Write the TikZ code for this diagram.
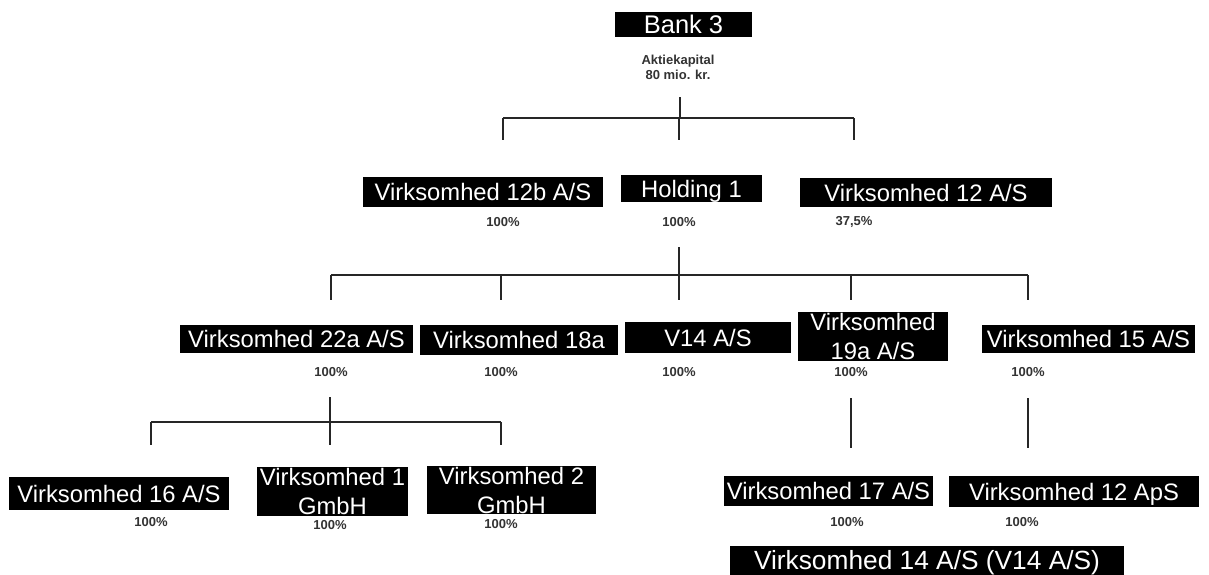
\documentclass[tikz,border=0pt]{standalone}
\usepackage{fontspec}
\setmainfont{Liberation Sans}
\usepackage{tikz}
\usetikzlibrary{positioning}

\newcommand{\firmfont}{\fontsize{23.8}{29}\selectfont}
\newcommand{\pctfont}{\fontsize{13}{15}\selectfont\bfseries}

\begin{document}
\begin{tikzpicture}[
        x=1pt, y=-1pt,
        box/.style={fill=black, text=white, inner sep=0pt, align=center, font=\firmfont},
        single/.style={text height=17pt, text depth=0pt},
        pct/.style={inner sep=0pt, align=center, text=black!80, font=\pctfont},
        line/.style={draw=black!85, line width=1.1pt}
    ]
        \path[fill=white, use as bounding box] (0,0) rectangle (1209,574);

        % ── Top: the bank ────────────────────────────────────────────────
        \node[box, minimum width=137, minimum height=25, text height=18pt, text depth=0pt,
              font=\fontsize{25.5}{29}\selectfont] (bank) at (683.5, 24.5) {Bank 3};
        \node[pct] (cap) at (678, 67) {Aktiekapital\\80 mio. kr.};

        % ── Percent labels (drawn first, boxes sit on top) ──────────────
        \node[pct] (p12b)  at (503,  222) {100\%};
        \node[pct] (phold) at (679,  222) {100\%};
        \node[pct] (p12)   at (854,  222) {37,5\%};
        \node[pct] (p22a)  at (331,  372) {100\%};
        \node[pct] (p18a)  at (501,  372) {100\%};
        \node[pct] (pv14)  at (679,  372) {100\%};
        \node[pct] (p19a)  at (851,  372) {100\%};
        \node[pct] (p15)   at (1028, 372) {100\%};
        \node[pct] (p16)   at (151,  522) {100\%};
        \node[pct] (p1)    at (330,  525) {100\%};
        \node[pct] (p2)    at (501,  524) {100\%};
        \node[pct] (p17)   at (847,  522) {100\%};
        \node[pct] (p12a)  at (1022, 522) {100\%};

        % ── Second row ───────────────────────────────────────────────────
        \node[box, single, minimum width=240, minimum height=30] (v12b) at (483,   192)   {Virksomhed 12b A/S};
        \node[box, single, minimum width=141, minimum height=27] (hold) at (691.5, 188.5) {Holding 1};
        \node[box, single, minimum width=252, minimum height=29] (v12)  at (926,   192.5) {Virksomhed 12 A/S};

        % ── Third row ────────────────────────────────────────────────────
        \node[box, single, minimum width=233, minimum height=28] (v22a) at (296.5,  339)   {Virksomhed 22a A/S};
        \node[box, single, minimum width=198, minimum height=30] (v18a) at (519,    340)   {Virksomhed 18a};
        \node[box, single, minimum width=166, minimum height=31] (v14)  at (708,    337.5) {V14 A/S};
        \node[box, minimum width=150, minimum height=49]         (v19a) at (873,    336.5) {Virksomhed\\19a A/S};
        \node[box, single, minimum width=213, minimum height=28] (v15)  at (1088.5, 339)   {Virksomhed 15 A/S};

        % ── Bottom row ───────────────────────────────────────────────────
        \node[box, single, minimum width=220, minimum height=33] (v16)  at (119,   493.5) {Virksomhed 16 A/S};
        \node[box, minimum width=151, minimum height=49]         (v1)   at (332.5, 491.5) {Virksomhed 1\\GmbH};
        \node[box, minimum width=169, minimum height=48]         (v2)   at (511.5, 490)   {Virksomhed 2\\GmbH};
        \node[box, single, minimum width=209, minimum height=30] (v17)  at (828.5, 491)   {Virksomhed 17 A/S};
        \node[box, single, minimum width=250, minimum height=31] (v12a) at (1074,  491.5) {Virksomhed 12 ApS};
        \node[box, minimum width=394, minimum height=29, text height=18.8pt, text depth=0pt,
              font=\fontsize{26.3}{30}\selectfont]               (v14f) at (927,   560)   {Virksomhed 14 A/S (V14 A/S)};

        % ── Fork under Bank 3 ────────────────────────────────────────────
        \coordinate (f1top) at (680,  97);
        \coordinate (f1bar) at (680, 118);
        \coordinate (f1end) at (680, 140);
        \draw[line] (f1top) -- (f1bar);
        \draw[line] (p12b |- f1bar) -- (p12 |- f1bar);
        \foreach \n in {p12b, phold, p12}
            \draw[line] (\n |- f1bar) -- (\n |- f1end);

        % ── Fork under Holding 1 ─────────────────────────────────────────
        \coordinate (f2top) at (679, 247);
        \coordinate (f2bar) at (679, 275);
        \coordinate (f2end) at (679, 300);
        \draw[line] (f2top) -- (f2bar);
        \draw[line] (p22a |- f2bar) -- (p15 |- f2bar);
        \foreach \n in {p22a, p18a, pv14, p19a, p15}
            \draw[line] (\n |- f2bar) -- (\n |- f2end);

        % ── Fork under Virksomhed 22a A/S ────────────────────────────────
        \coordinate (f3top) at (330, 397);
        \coordinate (f3bar) at (330, 422);
        \coordinate (f3end) at (330, 445);
        \draw[line] (f3top) -- (f3bar);
        \draw[line] (p16 |- f3bar) -- (p2 |- f3bar);
        \foreach \n in {p16, p1, p2}
            \draw[line] (\n |- f3bar) -- (\n |- f3end);

        % ── Single links on the right ────────────────────────────────────
        \coordinate (f4top) at (851, 398);
        \coordinate (f4end) at (851, 448);
        \draw[line] (p19a |- f4top) -- (p19a |- f4end);
        \draw[line] (p15 |- f4top) -- (p15 |- f4end);

    \end{tikzpicture}
\end{document}
